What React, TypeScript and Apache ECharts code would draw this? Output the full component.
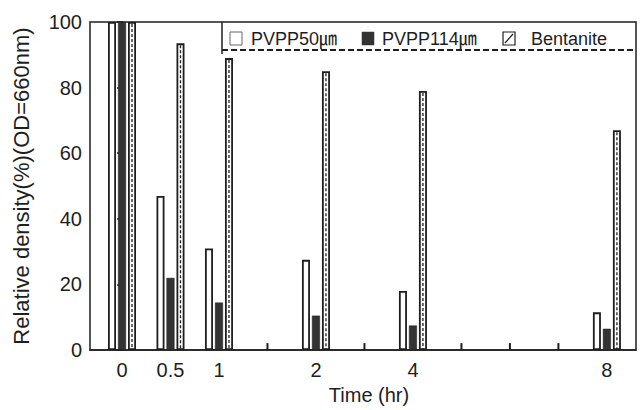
import React, { useEffect, useRef } from "react";
import * as echarts from "echarts";

// slot labels on the time axis (11 evenly spaced slots)
const slotLabels = ["0", "0.5", "1", "", "2", "", "4", "", "", "", "8"];
const tickSlots = [0, 1, 2, 3, 4, 5, 6, 7, 8, 9, 10];
// measured time points and their slot index
const times = ["0", "0.5", "1", "2", "4", "8"];
const timeSlots = [0, 1, 2, 4, 6, 10];
// relative density (%)
const pvpp50 = [100, 47, 31, 27.5, 18, 11.5];
const pvpp114 = [100, 22, 14.5, 10.5, 7.5, 6.5];
const bentanite = [100, 93.5, 89, 85, 79, 67];
const yTicks = [0, 20, 40, 60, 80, 100];

const FONT = "'Liberation Sans', Arial, 'Noto Sans CJK JP', sans-serif";
const INK = "#1e1e1e";

export default function App() {
  const ref = useRef<HTMLDivElement>(null);
  useEffect(() => {
    if (!ref.current) return;
    const chart = echarts.init(ref.current, null, { renderer: "svg" });
    const pair = (arr: number[]) => timeSlots.map((s, i) => [s, arr[i]]);
    const BAR_W = 8;
    const GAP = 0.25;
    const offset = BAR_W * (1 + GAP);
    chart.setOption({
      animation: false,
      backgroundColor: "#ffffff",
      textStyle: { fontFamily: FONT },
      grid: {
        left: 90,
        right: 5,
        top: 22,
        bottom: 49,
        show: true,
        borderColor: INK,
        borderWidth: 1.5,
        backgroundColor: "transparent",
      },
      xAxis: {
        type: "value",
        min: -0.66,
        max: 10.6,
        splitLine: { show: false },
        axisLine: { show: true, onZero: false, lineStyle: { color: INK, width: 1.6 } },
        axisTick: { show: false },
        axisLabel: {
          customValues: timeSlots,
          formatter: (v: number) => slotLabels[Math.round(v)] ?? "",
          fontSize: 20,
          margin: 10,
          color: INK,
          fontFamily: FONT,
        },
        name: "Time (hr)",
        nameLocation: "middle",
        nameGap: 31,
        nameTextStyle: { fontSize: 20, color: INK, fontFamily: FONT, padding: [0, 0, 0, 12] },
      },
      yAxis: {
        type: "value",
        min: 0,
        max: 100,
        interval: 20,
        splitLine: { show: false },
        axisLine: { show: true, lineStyle: { color: INK, width: 2 } },
        axisTick: { show: true, length: 5, lineStyle: { color: INK, width: 1.5 } },
        minorTick: { show: true, splitNumber: 2, length: 3, lineStyle: { color: "#777", width: 1 } },
        axisLabel: {
          fontSize: 20,
          margin: 8,
          color: INK,
          fontFamily: FONT,
          formatter: (v: number) => (yTicks.includes(v) ? String(v) : ""),
        },
        name: "Relative density(%)(OD=660nm)",
        nameLocation: "middle",
        nameRotate: 90,
        nameGap: 58,
        nameTextStyle: { fontSize: 22, color: INK, fontFamily: FONT },
      },
      series: [
        {
          name: "ticks",
          type: "custom",
          data: tickSlots.map((s) => [s, 0]),
          z: 1,
          silent: true,
          renderItem: (params: any, api: any) => {
            const b = api.coord([api.value(0), 0]);
            return {
              type: "line",
              shape: { x1: b[0], y1: b[1], x2: b[0], y2: b[1] - 7 },
              style: { stroke: INK, lineWidth: 2 },
            };
          },
        },
        {
          name: "PVPP50㎛",
          type: "bar",
          data: pair(pvpp50),
          barWidth: BAR_W,
          barGap: GAP * 100 + "%",
          z: 3,
          itemStyle: { color: "#ffffff", borderColor: INK, borderWidth: 1.8 },
        },
        {
          name: "PVPP114㎛",
          type: "bar",
          data: pair(pvpp114),
          barWidth: BAR_W,
          barGap: GAP * 100 + "%",
          z: 3,
          itemStyle: { color: "#333333", borderColor: INK, borderWidth: 0.5 },
        },
        {
          name: "Bentanite",
          type: "bar",
          data: pair(bentanite),
          barWidth: BAR_W,
          barGap: GAP * 100 + "%",
          z: 3,
          itemStyle: { color: "#ffffff", borderColor: INK, borderWidth: 1.8 },
        },
        {
          name: "Bentanite hatch",
          type: "custom",
          data: pair(bentanite),
          z: 5,
          renderItem: (params: any, api: any) => {
            const x = api.value(0);
            const y = api.value(1);
            const b = api.coord([x, 0]);
            const t = api.coord([x, y]);
            const cx = b[0] + offset;
            return {
              type: "line",
              shape: { x1: cx, y1: t[1] + 2, x2: cx, y2: b[1] - 1 },
              style: { stroke: INK, lineWidth: 1.3, lineDash: [3, 2] },
            };
          },
        },
      ],
      graphic: [
        {
          type: "line",
          shape: { x1: 222, y1: 22, x2: 222, y2: 54 },
          style: { stroke: INK, lineWidth: 1.5 },
          z: 10,
        },
        {
          type: "line",
          shape: { x1: 222, y1: 50, x2: 636, y2: 50 },
          style: { stroke: INK, lineWidth: 1.8, lineDash: [6, 3] },
          z: 10,
        },
        {
          type: "rect",
          shape: { x: 230, y: 32, width: 12, height: 13 },
          style: { fill: "#ffffff", stroke: "#666", lineWidth: 1 },
          z: 10,
        },
        {
          type: "text",
          x: 251,
          y: 39,
          style: { text: "PVPP50㎛", fontSize: 18, fontFamily: FONT, fill: INK, verticalAlign: "middle" },
          z: 10,
        },
        {
          type: "rect",
          shape: { x: 362, y: 32, width: 12, height: 13 },
          style: { fill: "#333333", stroke: "#333", lineWidth: 0.5 },
          z: 10,
        },
        {
          type: "text",
          x: 382,
          y: 39,
          style: { text: "PVPP114㎛", fontSize: 18, fontFamily: FONT, fill: INK, verticalAlign: "middle" },
          z: 10,
        },
        {
          type: "rect",
          shape: { x: 503, y: 32, width: 12, height: 13 },
          style: { fill: "#ffffff", stroke: INK, lineWidth: 1.2 },
          z: 10,
        },
        {
          type: "line",
          shape: { x1: 505, y1: 43, x2: 513, y2: 34 },
          style: { stroke: INK, lineWidth: 1.2 },
          z: 11,
        },
        {
          type: "text",
          x: 531,
          y: 39,
          style: { text: "Bentanite", fontSize: 18, fontFamily: FONT, fill: INK, verticalAlign: "middle" },
          z: 10,
        },
      ],
    });
    return () => chart.dispose();
  }, []);
  return (
    <div
      ref={ref}
      style={{ position: "fixed", left: 0, top: 0, width: 641, height: 410, background: "#fff" }}
    />
  );
}
